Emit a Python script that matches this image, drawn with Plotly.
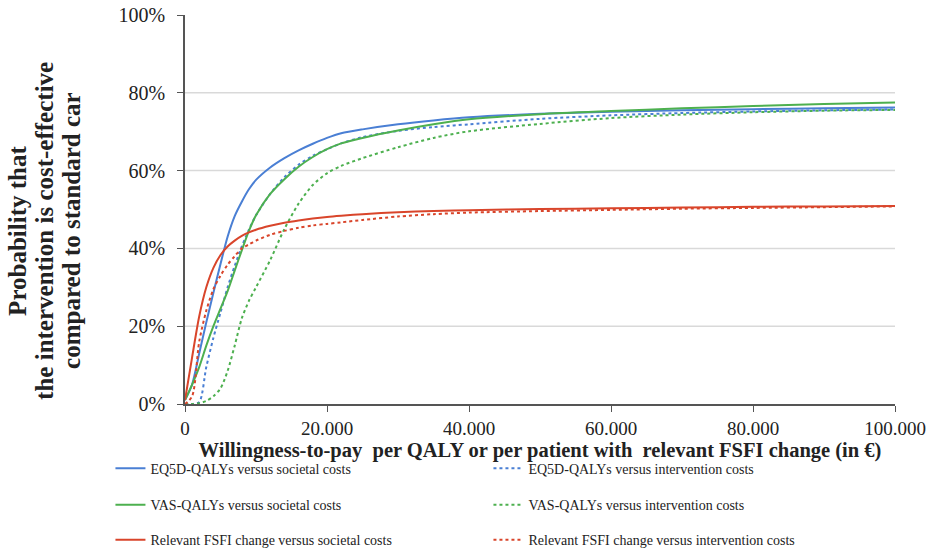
import plotly.graph_objects as go

wtp = [0, 1000, 2000, 3000, 4000, 5000, 6000, 7000, 8000, 9000, 10000, 12000, 14000,
       16000, 18000, 20000, 22000, 25000, 30000, 35000, 40000, 50000, 60000, 70000,
       80000, 90000, 100000]

eq5d_soc = [1, 5, 13, 21, 28.6, 36, 43, 48.3, 52, 55.2, 57.6, 60.8, 63.2, 65.2, 66.9,
            68.4, 69.6, 70.6, 71.9, 72.9, 73.7, 74.6, 75.1, 75.5, 75.8, 76.0, 76.2]
eq5d_int = [0, 0, 0.5, 9.5, 17, 23.5, 30, 35.5, 40.5, 44.8, 48.5, 54, 58.3, 61.5, 63.8,
            65.5, 67, 68.6, 70.2, 71.2, 71.9, 73.3, 74.2, 74.8, 75.2, 75.5, 75.7]
vas_soc = [1, 5, 9.5, 15, 20, 24.5, 29, 34.3, 39.5, 44.5, 48.5, 54, 57.8, 61, 63.5,
           65.5, 67, 68.4, 70.3, 71.9, 73.2, 74.5, 75.3, 76, 76.6, 77.1, 77.5]
vas_int = [0, 0, 0.2, 0.8, 2, 4, 8.5, 15, 22, 26.5, 30, 37, 45, 51.5, 56.3,
           59.3, 61.2, 63.2, 66, 68.4, 70.1, 72, 73.5, 74.4, 75, 75.4, 75.6]
fsfi_soc = [1, 12, 22.5, 30, 35, 38.3, 40.5, 42, 43.2, 44.1, 44.8, 45.8, 46.6, 47.2, 47.7,
            48.1, 48.4, 48.8, 49.3, 49.6, 49.8, 50.1, 50.3, 50.5, 50.7, 50.8, 50.9]
fsfi_int = [0, 2, 16, 24, 29.5, 33, 35.8, 38, 40, 41, 42, 43.5, 44.5, 45.3, 45.9,
            46.3, 46.7, 47.3, 48.2, 48.8, 49.2, 49.6, 49.9, 50.2, 50.4, 50.6, 50.8]

series = [
    ("EQ5D-QALYs versus societal costs", eq5d_soc, "#4A7FD4", "solid", "legend"),
    ("EQ5D-QALYs versus intervention costs", eq5d_int, "#4A7FD4", "dot", "legend"),
    ("VAS-QALYs versus societal costs", vas_soc, "#4DB04F", "solid", "legend2"),
    ("VAS-QALYs versus intervention costs", vas_int, "#4DB04F", "dot", "legend2"),
    ("Relevant FSFI change versus societal costs", fsfi_soc, "#D9452B", "solid", "legend3"),
    ("Relevant FSFI change versus intervention costs", fsfi_int, "#D9452B", "dot", "legend3"),
]

x_ticks = [0, 20000, 40000, 60000, 80000, 100000]
x_ticktext = ["0", "20.000", "40.000", "60.000", "80.000", "100.000"]
y_ticks = [0, 0.2, 0.4, 0.6, 0.8, 1.0]
y_ticktext = ["0%", "20%", "40%", "60%", "80%", "100%"]
grid_vals = [0.2, 0.4, 0.6, 0.8]
y_title_lines = ["Probability that", "the intervention is cost-effective", "compared to standard car"]

fig = go.Figure()
for name, vals, color, dash, leg in series:
    fig.add_trace(go.Scatter(
        x=wtp, y=[v / 100 for v in vals], mode="lines", name=name, legend=leg,
        line=dict(color=color, width=2, dash=dash, shape="spline", smoothing=0.8),
    ))

for g in grid_vals:
    fig.add_hline(y=g, line=dict(color="#D9D9D9", width=1.5), layer="below")

font_family = "Liberation Serif"
leg_common = dict(orientation="h", xanchor="left", yanchor="middle", x=-0.105,
                  entrywidth=333, entrywidthmode="pixels",
                  font=dict(family=font_family, size=14, color="#222"),
                  bgcolor="rgba(0,0,0,0)", itemwidth=30)

annots = []
for i, line in enumerate(y_title_lines):
    annots.append(dict(
        text="<b>" + line + "</b>", xref="paper", yref="paper",
        x=(18 + 27 * i - 185) / 710, y=0.445, textangle=-90, showarrow=False,
        font=dict(family=font_family, size=25, color="#222"),
        xanchor="center", yanchor="middle"))

fig.update_layout(
    width=933, height=550,
    margin=dict(l=185, r=38, t=15, b=146, autoexpand=False),
    paper_bgcolor="white", plot_bgcolor="white",
    font=dict(family=font_family, color="#222"),
    showlegend=True,
    legend=dict(leg_common, y=-0.166),
    legend2=dict(leg_common, y=-0.26),
    legend3=dict(leg_common, y=-0.35),
    xaxis=dict(range=[0, 100000], tickvals=x_ticks, ticktext=x_ticktext,
               showgrid=False, zeroline=False, showline=True, linecolor="#555",
               linewidth=1.5, ticks="outside", ticklen=6, tickcolor="#555",
               tickfont=dict(family=font_family, size=19, color="#222"),
               title=dict(text="<b>Willingness-to-pay  per QALY or per patient with  relevant FSFI change (in €)</b>",
                          font=dict(family=font_family, size=20.5, color="#222"), standoff=2)),
    yaxis=dict(range=[0, 1], tickvals=y_ticks, ticktext=y_ticktext,
               showgrid=False, zeroline=False, showline=True, linecolor="#555",
               linewidth=1.5, ticks="outside", ticklen=6, tickcolor="#555",
               ticklabelstandoff=8,
               tickfont=dict(family=font_family, size=20, color="#222")),
    annotations=annots,
)

fig.write_html("out.html", config={"displayModeBar": False},
               post_script="document.body.style.margin='0px';")
